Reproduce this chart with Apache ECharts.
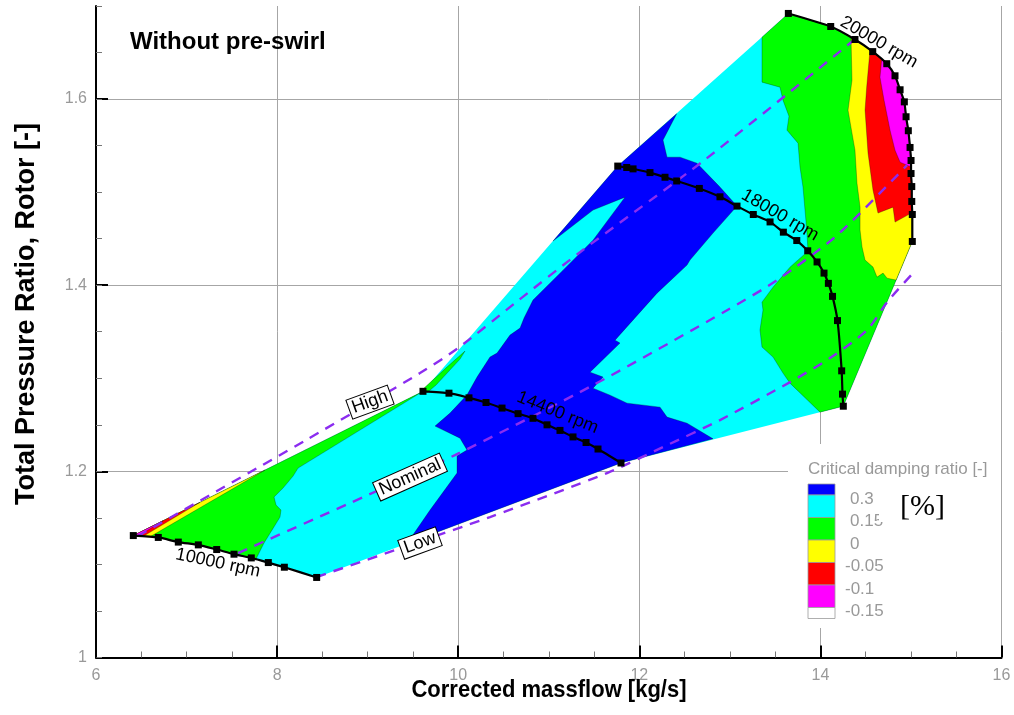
<!DOCTYPE html>
<html>
<head>
<meta charset="utf-8">
<script src="https://cdn.jsdelivr.net/npm/echarts@6/dist/echarts.min.js"></script>
<style>
  html, body { margin: 0; padding: 0; background: #ffffff; }
  #chart { width: 1014px; height: 715px; }
</style>
</head>
<body>
<div id="chart"></div>
<script>
// ---- Speed lines: [corrected massflow kg/s, total pressure ratio] ----
const rpm10000 = [[6.412,1.131],[6.688,1.129],[6.909,1.124],[7.130,1.121],[7.333,1.116],[7.524,1.111],[7.715,1.107],[7.903,1.102],[8.080,1.097],[8.437,1.086]];
const rpm14400 = [[9.611,1.286],[9.898,1.284],[10.119,1.279],[10.307,1.274],[10.484,1.268],[10.661,1.262],[10.826,1.257],[10.981,1.250],[11.124,1.244],[11.268,1.237],[11.412,1.231],[11.544,1.224],[11.798,1.209]];
const rpm18000 = [[11.762,1.528],[11.861,1.5265],[11.931,1.525],[12.118,1.521],[12.284,1.516],[12.413,1.512],[12.663,1.504],[12.891,1.495],[13.079,1.485],[13.259,1.476],[13.444,1.468],[13.591,1.457],[13.739,1.448],[13.860,1.437],[13.963,1.425],[14.040,1.413],[14.088,1.402],[14.134,1.388],[14.189,1.362],[14.235,1.308],[14.244,1.283],[14.253,1.270]];
const rpm20000 = [[13.646,1.692],[14.114,1.678],[14.382,1.664],[14.578,1.651],[14.733,1.638],[14.824,1.625],[14.880,1.610],[14.927,1.597],[14.946,1.581],[14.971,1.566],[14.990,1.548],[15.001,1.534],[15.001,1.520],[15.009,1.506],[15.009,1.490],[15.015,1.476],[15.015,1.447]];

// ---- Working lines (dashed) ----
const lineHigh = [[6.464,1.1305],[8.319,1.2336],[9.578,1.3056],[9.998,1.3324],[10.627,1.3808],[11.345,1.4355],[12.747,1.5365],[14.382,1.6643]];
const lineNominal = [[7.568,1.1122],[8.805,1.1659],[9.965,1.2175],[11.489,1.2926],[12.969,1.3731],[13.521,1.4054],[14.184,1.4537],[14.957,1.529]];
const lineLow = [[8.437,1.0865],[10.351,1.1509],[11.644,1.1982],[12.262,1.2261],[12.891,1.2551],[13.665,1.2959],[14.106,1.3217],[14.515,1.3518],[14.736,1.3818],[15.023,1.4130]];

// ---- Contour bands of the critical damping ratio ----
// green band along the surge side of the low speed region
const bandGreenLow = [[6.412,1.131],[9.611,1.286],[8.231,1.2035],[8.176,1.1949],[8.065,1.182],[7.966,1.1724],[7.988,1.1638],[8.043,1.1584],[8.032,1.1509],[7.944,1.1369],[7.855,1.123],[7.767,1.1058],[7.715,1.107],[7.524,1.111],[7.333,1.116],[7.130,1.121],[6.909,1.124],[6.688,1.129]];
const bandYellowLow = [[6.412,1.131],[7.866,1.2014],[6.596,1.1297]];
const bandRedLow = [[6.412,1.131],[7.148,1.1667],[6.522,1.1302]];
const bandMagentaLow = [[6.412,1.131],[6.740,1.1469],[6.467,1.1306]];
const bandGreenSliver = [[9.611,1.2884],[9.888,1.3131],[10.075,1.3292],[10.020,1.3206],[9.755,1.2927],[9.656,1.2846]];
const bandBlue = [[11.762,1.528],[12.413,1.5843],[12.262,1.5559],[12.306,1.5376],[12.450,1.5376],[12.637,1.5311],[12.891,1.5054],[13.079,1.485],[12.814,1.456],[12.560,1.427],[12.527,1.4216],[12.196,1.3915],[11.732,1.341],[11.787,1.3378],[11.456,1.3066],[11.600,1.3013],[11.489,1.2894],[11.677,1.2819],[11.865,1.2733],[12.229,1.269],[12.306,1.2583],[12.527,1.2518],[12.814,1.235],[11.798,1.209],[9.435,1.1225],[9.689,1.1584],[9.987,1.1982],[9.987,1.2164],[10.097,1.2229],[10.020,1.2357],[9.744,1.2486],[9.910,1.2626],[10.097,1.282],[10.208,1.3013],[10.351,1.3228],[10.429,1.3271],[10.572,1.3464],[10.683,1.3539],[10.727,1.3647],[10.826,1.384],[11.158,1.4162],[11.489,1.4484],[11.842,1.4946],[11.489,1.4807],[11.047,1.4474]];
const bandGreenHigh = [[13.355,1.6665],[13.355,1.6182],[13.554,1.6128],[13.587,1.5988],[13.653,1.5816],[13.631,1.5666],[13.753,1.5526],[13.775,1.5268],[13.808,1.5054],[13.852,1.456],[13.863,1.4366],[13.664,1.4194],[13.477,1.3979],[13.355,1.3818],[13.366,1.3733],[13.333,1.3518],[13.355,1.3335],[13.477,1.3228],[13.587,1.3056],[13.664,1.2948],[13.996,1.2636]];
const bandYellowHigh = [[14.338,1.6663],[14.349,1.6203],[14.305,1.5881],[14.349,1.5634],[14.382,1.5451],[14.404,1.5097],[14.438,1.4839],[14.438,1.4592],[14.460,1.441],[14.493,1.427],[14.581,1.4195],[14.625,1.4087],[14.692,1.413],[14.736,1.4076],[14.836,1.4055]];
const bandRedHigh = [[14.548,1.653],[14.511,1.6128],[14.493,1.5881],[14.526,1.5419],[14.581,1.5021],[14.636,1.4775],[14.802,1.4839],[14.824,1.4678],[15.014,1.478]];
const bandMagentaHigh = [[14.677,1.6427],[14.658,1.6235],[14.703,1.5988],[14.769,1.5666],[14.824,1.5451],[14.880,1.5322],[15.001,1.527]];

// ---- Legend levels ----
const legendLevels = ['0.3', '0.15', '0', '-0.05', '-0.1', '-0.15'];
const legendColors = ['#0000ff', '#00ffff', '#00ff00', '#ffff00', '#ff0000', '#ff00ff', '#ffffff'];

const C = { blue: '#0000ff', cyan: '#00ffff', green: '#00ff00', yellow: '#ffff00', red: '#ff0000', magenta: '#ff00ff' };

// the 20000 rpm line between two pressure ratios, walked upwards from the choke end
function along20000Up(fromY, toY) {
  return rpm20000.filter(p => p[1] > fromY && p[1] < toY).slice().reverse();
}

// full operating envelope: 10000 line, choke side, 20000 line, surge side
const envelope = []
  .concat(rpm10000)
  .concat([rpm14400[rpm14400.length - 1], rpm18000[rpm18000.length - 1]])
  .concat(rpm20000.slice().reverse())
  .concat([rpm18000[0], rpm14400[0]]);

const greenHighPoly = bandGreenHigh
  .concat([rpm18000[rpm18000.length - 1]])
  .concat(rpm20000.slice().reverse());
const yellowHighPoly = bandYellowHigh.concat(along20000Up(1.44, 1.666));
const redHighPoly = bandRedHigh.concat(along20000Up(1.478, 1.653));
const magentaHighPoly = bandMagentaHigh.concat(along20000Up(1.527, 1.6427));

const regions = [
  { pts: envelope, color: C.cyan, base: true },
  { pts: bandGreenLow, color: C.green },
  { pts: bandYellowLow, color: C.yellow },
  { pts: bandRedLow, color: C.red },
  { pts: bandMagentaLow, color: C.magenta },
  { pts: bandGreenSliver, color: C.green },
  { pts: bandBlue, color: C.blue },
  { pts: greenHighPoly, color: C.green },
  { pts: yellowHighPoly, color: C.yellow },
  { pts: redHighPoly, color: C.red },
  { pts: magentaHighPoly, color: C.magenta }
];

const chart = echarts.init(document.getElementById('chart'), null, { renderer: 'canvas' });

const baseFont = 'Liberation Sans, Arial, Helvetica, sans-serif';

function speedSeries(data) {
  return {
    type: 'line', data: data, z: 5, silent: true,
    symbol: 'rect', symbolSize: 7,
    itemStyle: { color: '#000', opacity: 1 },
    lineStyle: { color: '#000', width: 2.2 },
    smooth: 0.2
  };
}
function workingSeries(data) {
  return {
    type: 'line', data: data, z: 4, silent: true,
    symbol: 'none', smooth: 0.25,
    lineStyle: { color: '#8b2cf0', width: 2.4, type: [10, 8] }
  };
}
function textLabel(name, at, angle, boxed) {
  return {
    type: 'scatter', z: 8, silent: true, symbolSize: 0,
    itemStyle: { opacity: 1 },
    data: [{ name: name, value: at }],
    label: {
      show: true, position: 'inside', formatter: '{b}', rotate: angle, opacity: 1,
      color: '#000', fontSize: 18, fontFamily: baseFont,
      textBorderWidth: 0,
      backgroundColor: boxed ? '#fff' : 'transparent',
      borderColor: boxed ? '#000' : 'transparent', borderWidth: boxed ? 1 : 0,
      padding: boxed ? [1, 3, 0, 3] : 0
    }
  };
}

// legend (colour key) and free text
const extraGraphics = [];
const keyX = 808, keyW = 27;
const keyRows = [11, 22.5, 22.5, 22.5, 22.5, 22.5, 11];
let ky = 484;
extraGraphics.push({ type: 'rect', shape: { x: 788, y: 444, width: 213, height: 184 }, style: { fill: '#fff' }, z: 90 });
extraGraphics.push({ type: 'text', x: 808, y: 469, z: 100,
  style: { text: 'Critical damping ratio [-]', fill: '#999', font: '17px ' + baseFont, textVerticalAlign: 'middle' } });
const boundaries = [];
keyRows.forEach((h, i) => {
  extraGraphics.push({ type: 'rect', z: 100, shape: { x: keyX, y: ky, width: keyW, height: h },
    style: { fill: legendColors[i], stroke: '#9a9a9a', lineWidth: 0.8 } });
  ky += h;
  boundaries.push(ky);
});
legendLevels.forEach((t, i) => {
  const neg = t.charAt(0) === '-';
  extraGraphics.push({ type: 'text', z: 100, x: neg ? 845 : 850, y: boundaries[i] + 4,
    style: { text: t, fill: '#999', font: '17px ' + baseFont, textVerticalAlign: 'middle' } });
});
extraGraphics.push({ type: 'rect', z: 101, shape: { x: 879, y: 492, width: 72, height: 30 }, style: { fill: '#fff' } });
extraGraphics.push({ type: 'text', z: 102, x: 900, y: 507,
  style: { text: '[%]', fill: '#000', font: '30px Liberation Serif, Times New Roman, serif', textVerticalAlign: 'middle' } });

// case title
extraGraphics.push({ type: 'text', x: 130, y: 42, z: 100,
  style: { text: 'Without pre-swirl', fill: '#000', font: 'bold 24px ' + baseFont, textVerticalAlign: 'middle' } });
// axis titles
extraGraphics.push({ type: 'text', x: 549, y: 690, z: 100, scaleY: 1.12,
  style: { text: 'Corrected massflow [kg/s]', fill: '#000', font: 'bold 22px ' + baseFont, textAlign: 'center', textVerticalAlign: 'middle' } });
extraGraphics.push({ type: 'text', x: 27, y: 314, z: 100, rotation: Math.PI / 2,
  style: { text: 'Total Pressure Ratio, Rotor [-]', fill: '#000', font: 'bold 27px ' + baseFont, textAlign: 'center', textVerticalAlign: 'middle' } });

const option = {
  animation: false,
  backgroundColor: '#fff',
  grid: { left: 96, right: 12.5, top: 6, bottom: 57.5, containLabel: false },
  xAxis: {
    type: 'value', min: 6, max: 16, interval: 2,
    axisLine: { show: true, onZero: false, lineStyle: { color: '#000', width: 2 } },
    axisTick: { show: true, inside: true, length: 12, lineStyle: { color: '#000', width: 2 } },
    minorTick: { show: true, splitNumber: 4, length: 6, lineStyle: { color: '#777', width: 1 } },
    axisLabel: { color: '#999', fontSize: 16, fontFamily: baseFont, margin: 10 },
    splitLine: { show: true, lineStyle: { color: '#a6a6a6', width: 1 } }
  },
  yAxis: [
    {
      type: 'value', min: 1, max: 1.7, interval: 0.2,
      axisLine: { show: true, onZero: false, lineStyle: { color: '#000', width: 2 } },
      axisTick: { show: true, inside: true, length: 12, lineStyle: { color: '#000', width: 2 } },
      axisLabel: { color: '#999', fontSize: 16, fontFamily: baseFont, margin: 9, showMaxLabel: false },
      splitLine: { show: true, showMaxLine: false, lineStyle: { color: '#a6a6a6', width: 1 } }
    },
    {
      type: 'value', min: 1, max: 1.7, interval: 0.05, position: 'left',
      axisLine: { show: false },
      axisTick: { show: true, inside: true, length: 6, lineStyle: { color: '#777', width: 1 } },
      axisLabel: { show: false },
      splitLine: { show: false }
    }
  ],
  graphic: extraGraphics,
  series: [
    {
      type: 'custom', z: 2, silent: true,
      data: regions.map(r => r.pts[0]),
      renderItem: function (params, api) {
        const r = regions[params.dataIndex];
        return {
          type: 'polygon',
          shape: { points: r.pts.map(p => api.coord(p)) },
          style: {
            fill: r.color,
            stroke: r.base ? null : 'rgba(0,0,0,0.45)',
            lineWidth: r.base ? 0 : 0.6
          }
        };
      }
    },
    workingSeries(lineHigh),
    workingSeries(lineNominal),
    workingSeries(lineLow),
    speedSeries(rpm10000),
    speedSeries(rpm14400),
    speedSeries(rpm18000),
    speedSeries(rpm20000),
    textLabel('High', [9.026, 1.2744], 20, true),
    textLabel('Nominal', [9.468, 1.1939], 24, true),
    textLabel('Low', [9.578, 1.123], 20, true),
    textLabel('10000 rpm', [7.347, 1.1015], -12, false),
    textLabel('14400 rpm', [11.097, 1.2632], -22, false),
    textLabel('18000 rpm', [13.554, 1.4753], -30, false),
    textLabel('20000 rpm', [14.647, 1.6611], -30, false)
  ]
};
chart.setOption(option);
</script>
</body>
</html>
